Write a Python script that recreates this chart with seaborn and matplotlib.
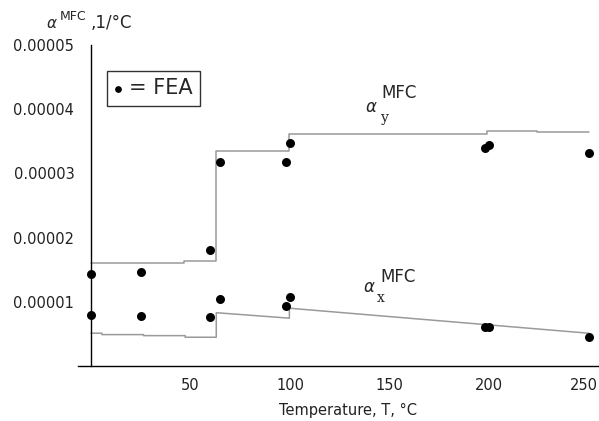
import matplotlib
matplotlib.use("Agg")
import matplotlib.pyplot as plt
import matplotlib.transforms as mtransforms
import seaborn as sns
import pandas as pd
from matplotlib.ticker import FixedLocator, MultipleLocator

# FEA points
fea_T = [0, 0, 25, 25, 60, 60, 65, 65, 98, 98, 100, 100, 198, 200, 198, 200, 250, 250]
fea_a = [1.44e-5, 0.80e-5, 1.46e-5, 0.78e-5, 1.80e-5, 0.76e-5, 1.05e-5, 3.18e-5,
         0.93e-5, 3.18e-5, 1.08e-5, 3.48e-5, 3.39e-5, 3.44e-5, 0.60e-5, 0.61e-5,
         3.32e-5, 0.45e-5]

# alpha_y^MFC model
ay_T = [0, 46.5, 46.5, 62.9, 62.9, 99.6, 99.6, 198.6, 198.6, 223.7, 223.7, 250]
ay_a = [1.61e-5, 1.61e-5, 1.63e-5, 1.63e-5, 3.35e-5, 3.35e-5, 3.62e-5, 3.62e-5,
        3.66e-5, 3.66e-5, 3.65e-5, 3.65e-5]

# alpha_x^MFC model
ax_T = [0, 5.5, 5.5, 26.4, 26.4, 47.3, 47.3, 62.9, 62.9, 99.6, 99.6, 250]
ax_a = [0.511e-5, 0.511e-5, 0.489e-5, 0.489e-5, 0.473e-5, 0.473e-5, 0.448e-5,
        0.448e-5, 0.83e-5, 0.745e-5, 0.90e-5, 0.51e-5]

xticks = [50, 100, 150, 200, 250]
yticks = [1e-5, 2e-5, 3e-5, 4e-5, 5e-5]
ytick_labels = ["0.00001", "0.00002", "0.00003", "0.00004", "0.00005"]

sns.set_style("white")
plt.rcParams['font.family'] = ['DejaVu Sans']

W, H = 599, 421
fig = plt.figure(figsize=(W / 100, H / 100), dpi=100)
ax = fig.add_axes([78 / W, (H - 366) / H, 521 / W, 321 / H])

line_col = "#9a9a9a"
dfy = pd.DataFrame({"T": ay_T, "a": ay_a})
dfx = pd.DataFrame({"T": ax_T, "a": ax_a})
sns.lineplot(data=dfy, x="T", y="a", sort=False, estimator=None, color=line_col,
             lw=1.1, ax=ax)
sns.lineplot(data=dfx, x="T", y="a", sort=False, estimator=None, color=line_col,
             lw=1.1, ax=ax)
dff = pd.DataFrame({"T": fea_T, "a": fea_a})
sns.scatterplot(data=dff, x="T", y="a", color="black", s=42, edgecolor="black",
                linewidth=0, ax=ax, label="= FEA", zorder=5, clip_on=False)

ax.set_xlim(-6.5, 255)
ax.set_ylim(0, 5e-5)
ax.spines['left'].set_position(('data', 0))
ax.spines['bottom'].set_position(('data', 0))
ax.spines['top'].set_visible(False)
ax.spines['right'].set_visible(False)
for s in ['left', 'bottom']:
    ax.spines[s].set_color("black")
    ax.spines[s].set_linewidth(1.0)

ax.xaxis.set_major_locator(FixedLocator(xticks))
ax.xaxis.set_minor_locator(MultipleLocator(10))
ax.yaxis.set_major_locator(FixedLocator(yticks))
ax.yaxis.set_minor_locator(MultipleLocator(2e-6))
ax.set_xticklabels([str(t) for t in xticks])
ax.set_yticklabels(ytick_labels)
ax.tick_params(axis='both', which='major', direction='in', length=5, width=1,
               color='black', labelsize=10.5, labelcolor="#222222")
ax.tick_params(axis='both', which='minor', direction='in', length=3, width=1,
               color='black')
ax.tick_params(axis='y', which='major', pad=12)
ax.tick_params(axis='x', which='major', pad=9)
ax.set_xlabel("")
ax.set_ylabel("")

# keep the last x tick label inside the figure
last = ax.get_xticklabels()[-1]
last.set_transform(last.get_transform() +
                   mtransforms.ScaledTranslation(-5 / 100, 0, fig.dpi_scale_trans))

def ftext(x, y, s, **kw):
    fig.text(x / W, 1 - y / H, s, ha='center', va='center', **kw)

ftext(348, 410, "Temperature, T, °C", fontsize=10.5, color="#222222")
# y-axis label
ftext(52, 24, r"$\alpha$", fontsize=11)
ftext(73, 17, "MFC", fontsize=9)
ftext(111, 23, ",1/°C", fontsize=12)
# curve labels
ftext(371, 107, r"$\alpha$", fontsize=12)
ftext(399, 93, "MFC", fontsize=12)
ftext(385, 118, "y", fontsize=10, family='DejaVu Serif')
ftext(369, 287, r"$\alpha$", fontsize=12)
ftext(398, 277, "MFC", fontsize=12)
ftext(381, 298, "x", fontsize=10, family='DejaVu Serif')

leg = ax.legend(loc='upper left', bbox_to_anchor=(107 / W, 1 - 71 / H),
                bbox_transform=fig.transFigure, fancybox=False, frameon=True,
                edgecolor='black', fontsize=15, handlelength=0.4,
                handletextpad=0.3, borderpad=0.35, borderaxespad=0,
                markerscale=0.75)
leg.get_frame().set_linewidth(1.0)

fig.savefig("out.png", dpi=100)
